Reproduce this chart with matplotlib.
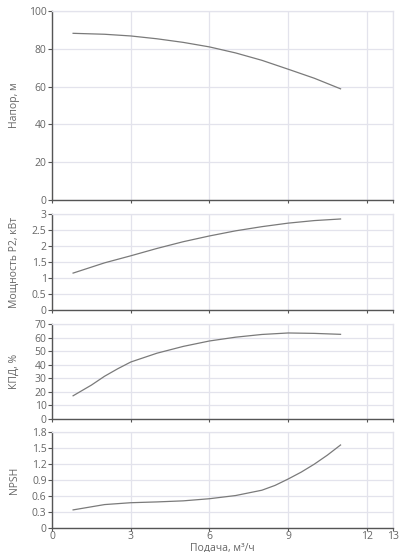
import matplotlib.pyplot as plt

plt.rcParams['font.family'] = ['Open Sans', 'DejaVu Sans']

# Data
q_head = [0.8, 2, 3, 4, 5, 6, 7, 8, 9, 10, 11]
head = [88.2, 87.7, 86.8, 85.3, 83.4, 81.0, 77.8, 73.9, 69.2, 64.4, 58.8]
q_power = [0.8, 2, 3, 4, 5, 6, 7, 8, 9, 10, 11]
power = [1.16, 1.48, 1.70, 1.93, 2.14, 2.32, 2.48, 2.61, 2.72, 2.80, 2.85]
q_eff = [0.8, 1.5, 2, 2.5, 3, 4, 5, 6, 7, 8, 9, 10, 11]
eff = [17.1, 25.0, 31.5, 37.0, 42.0, 48.5, 53.5, 57.5, 60.3, 62.3, 63.4, 63.1, 62.4]
q_npsh = [0.8, 2, 3, 4, 5, 6, 7, 8, 8.5, 9, 9.5, 10, 10.5, 11]
npsh = [0.34, 0.44, 0.475, 0.49, 0.51, 0.55, 0.61, 0.71, 0.80, 0.92, 1.05, 1.20, 1.37, 1.56]

x_ticks = [0, 3, 6, 9, 12, 13]
panels = [
    (q_head, head, "Напор, м", [0, 20, 40, 60, 80, 100], ["0", "20", "40", "60", "80", "100"], 100),
    (q_power, power, "Мощность P2, кВт", [0, 0.5, 1, 1.5, 2, 2.5, 3], ["0", "0.5", "1", "1.5", "2", "2.5", "3"], 3),
    (q_eff, eff, "КПД, %", [0, 10, 20, 30, 40, 50, 60, 70], ["0", "10", "20", "30", "40", "50", "60", "70"], 70),
    (q_npsh, npsh, "NPSH", [0, 0.3, 0.6, 0.9, 1.2, 1.5, 1.8], ["0", "0.3", "0.6", "0.9", "1.2", "1.5", "1.8"], 1.8),
]
# panel boxes (left, bottom, width, height) in figure fraction
boxes = [
    (0.13, 0.638, 0.85, 0.342),
    (0.13, 0.438, 0.85, 0.174),
    (0.13, 0.241, 0.85, 0.172),
    (0.13, 0.0435, 0.85, 0.1735),
]

fig = plt.figure(figsize=(4.01, 5.52), dpi=100)
grid_c = '#e3e3ec'
txt_c = '#666666'
axis_c = '#555555'

for i, ((xs, vals, label, yt, ytl, ymax), box) in enumerate(zip(panels, boxes)):
    ax = fig.add_axes(box)
    ax.plot(xs, vals, color='#7a7a7a', linewidth=0.9)
    ax.set_xlim(0, 13)
    ax.set_ylim(0, ymax)
    ax.set_xticks(x_ticks)
    ax.set_yticks(yt)
    ax.set_yticklabels(ytl)
    if i == 3:
        ax.set_xticklabels([str(t) for t in x_ticks])
        ax.set_xlabel("Подача, м³/ч", fontsize=7.5, color=txt_c, labelpad=0)
    else:
        ax.set_xticklabels([])
    ax.grid(True, color=grid_c, linewidth=0.9)
    ax.set_axisbelow(True)
    for s in ['top', 'right']:
        ax.spines[s].set_color(grid_c)
        ax.spines[s].set_linewidth(0.9)
    for s in ['left', 'bottom']:
        ax.spines[s].set_color(axis_c)
        ax.spines[s].set_linewidth(1.0)
    ax.tick_params(axis='y', colors=axis_c, labelcolor=txt_c, labelsize=7.5,
                   length=3, width=0.8, pad=1)
    ax.tick_params(axis='x', colors=axis_c, labelcolor=txt_c, labelsize=7.5,
                   length=2.5, width=0.8, pad=0)
    ax.set_ylabel(label, fontsize=7.5, color=txt_c)
    ax.yaxis.set_label_coords(-0.095, 0.5)

fig.savefig('out.png', dpi=100, facecolor='white')
